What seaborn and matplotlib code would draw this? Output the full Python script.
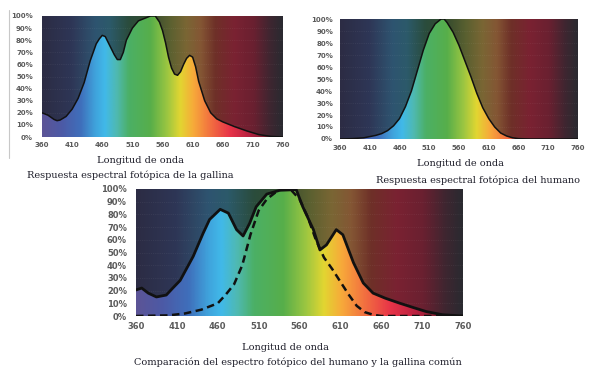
import numpy as np
import matplotlib
matplotlib.use("Agg")
import matplotlib.pyplot as plt
import seaborn as sns
from matplotlib.colors import LinearSegmentedColormap
from matplotlib.patches import Polygon
from matplotlib.lines import Line2D

# respuesta de la gallina (panel superior izquierdo)
gallina_nm = [360, 370, 380, 385, 390, 400, 410, 420, 430, 440, 450, 455, 460, 465, 470, 480, 485,
              490, 495, 500, 510, 520, 530, 540, 548, 555, 560, 565, 570, 575, 580, 585, 590, 595,
              600, 605, 610, 615, 620, 630, 640, 650, 660, 680, 700, 720, 740, 760]
gallina_pct = [20, 18, 14.5, 13.5, 14, 17, 23, 32, 45, 63, 77, 81, 84, 83, 78, 68, 64,
               64, 70, 80, 90, 96, 98, 100, 100, 95, 88, 78, 66, 57, 52, 51, 54, 60,
               65, 67.5, 66, 58, 46, 30, 20, 15, 12.5, 8.5, 5, 2, 0.5, 0]

# respuesta del humano (panel superior derecho)
humano_nm = [360, 380, 400, 420, 430, 440, 450, 460, 470, 480, 490, 500, 510, 520, 530, 535,
             540, 550, 560, 570, 580, 590, 600, 610, 620, 630, 640, 650, 660, 680, 760]
humano_pct = [0, 0.3, 1, 3, 4.5, 7, 11, 17, 27, 40, 57, 74, 88, 96, 100, 100,
              97, 89, 78, 65, 52, 38, 26, 17, 10, 5, 2.5, 1, 0.3, 0, 0]

# comparacion (panel inferior)
cmp_gallina_nm = [360, 367, 375, 385, 397, 405, 414, 430, 442, 450, 463, 473, 483, 491, 499, 507,
                  520, 536, 556, 564, 577, 585, 593, 605, 613, 626, 638, 650, 665, 683, 700, 715,
                  735, 760]
cmp_gallina_pct = [20.5, 22, 18, 15, 16.5, 22, 28, 47, 65, 76, 84, 81, 68, 63, 73, 86,
                   96, 99, 99.5, 86, 68, 52, 56, 68, 64, 42, 26, 18, 14, 10, 6.5, 3.5,
                   1, 0]
cmp_humano_nm = [360, 400, 420, 440, 460, 470, 480, 490, 500, 510, 520, 530, 538, 550, 560, 570,
                 580, 590, 600, 610, 620, 630, 640, 650, 660, 760]
cmp_humano_pct = [0, 0.5, 2, 5, 10, 17, 25, 40, 64, 83, 92, 97, 100, 99, 92, 78,
                  60, 46, 37, 27, 17, 8, 3, 1, 0, 0]

x_ticks = [360, 410, 460, 510, 560, 610, 660, 710, 760]
y_ticks = [0, 10, 20, 30, 40, 50, 60, 70, 80, 90, 100]
y_labels = [f"{v}%" for v in y_ticks]

BRIGHT = [(0.0, "#5c5496"), (0.08, "#4c5aa6"), (0.16, "#3f6fbb"), (0.22, "#3fa3dc"),
          (0.26, "#41b9e9"), (0.31, "#4fb9b0"), (0.36, "#4bb066"), (0.45, "#57ae4a"),
          (0.52, "#9cc641"), (0.575, "#e2d631"), (0.63, "#f7a93a"), (0.70, "#f27040"),
          (0.78, "#e83448"), (0.86, "#b82040"), (0.93, "#7a2030"), (1.0, "#3a2a30")]
DARK = [(0.0, "#2c2c44"), (0.12, "#2e3656"), (0.22, "#2e5470"), (0.28, "#2c5a6a"),
        (0.36, "#2a4c3c"), (0.45, "#364c2e"), (0.53, "#5a6030"), (0.6, "#7a6634"),
        (0.66, "#845634"), (0.72, "#6e3028"), (0.8, "#7a2232"), (0.88, "#6a2030"),
        (0.95, "#3e2630"), (1.0, "#2a2a30")]
bright_cmap = LinearSegmentedColormap.from_list("bright", BRIGHT)
dark_cmap = LinearSegmentedColormap.from_list("dark", DARK)

sns.set_theme(style="white")
plt.rcParams["font.family"] = ["DejaVu Sans"]

fig = plt.figure(figsize=(6, 3.74), dpi=100)
fig.patch.set_facecolor("white")


def spectrum_panel(rect, fill_nm, fill_pct, tick_size, pad_y, pad_x):
    ax = fig.add_axes(rect)
    grad = np.linspace(0, 1, 600)[None, :]
    ax.imshow(grad, cmap=dark_cmap, extent=[360, 760, 0, 100], aspect="auto",
              interpolation="bilinear", zorder=0)
    ax.hlines(y_ticks[1:-1], 360, 760, colors=(1, 1, 1, 0.10), lw=0.5, ls=":", zorder=1)
    im = ax.imshow(grad, cmap=bright_cmap, extent=[360, 760, 0, 100], aspect="auto",
                   interpolation="bilinear", zorder=2)
    verts = [(360, 0)] + list(zip(fill_nm, fill_pct)) + [(760, 0)]
    clip = Polygon(verts, closed=True, transform=ax.transData, fc="none", ec="none")
    ax.add_patch(clip)
    im.set_clip_path(clip)
    ax.set_xlim(360, 760)
    ax.set_ylim(0, 100)
    ax.set_xticks(x_ticks)
    ax.set_yticks(y_ticks)
    ax.set_yticklabels(y_labels)
    for s in ax.spines.values():
        s.set_visible(False)
    ax.tick_params(axis="y", length=0, pad=pad_y, labelsize=tick_size, labelcolor="#5a5a5a")
    ax.tick_params(axis="x", length=0, pad=pad_x, labelsize=tick_size, labelcolor="#5a5a5a")
    for lab in ax.get_xticklabels() + ax.get_yticklabels():
        lab.set_fontweight("bold")
    return ax


# panel 1: gallina
ax1 = spectrum_panel([42 / 600, 1 - 137 / 374, 241 / 600, 121 / 374],
                     gallina_nm, gallina_pct, 5, 6.5, 3.5)
sns.lineplot(x=gallina_nm, y=gallina_pct, ax=ax1, color="#111111", lw=1.1, zorder=3)

# panel 2: humano
ax2 = spectrum_panel([340 / 600, 1 - 139 / 374, 238 / 600, 120 / 374],
                     humano_nm, humano_pct, 5, 5, 4)
sns.lineplot(x=humano_nm, y=humano_pct, ax=ax2, color="#111111", lw=1.1, zorder=3)

# panel 3: comparacion
ax3 = spectrum_panel([136 / 600, 1 - 316 / 374, 327 / 600, 127 / 374],
                     cmp_gallina_nm, cmp_gallina_pct, 6, 6.5, 4)
sns.lineplot(x=cmp_gallina_nm, y=cmp_gallina_pct, ax=ax3, color="#111111", lw=2.0, zorder=4)
sns.lineplot(x=cmp_humano_nm, y=cmp_humano_pct, ax=ax3, color="#111111", lw=1.8,
             linestyle=(0, (3, 1.8)), zorder=3)

for ax in (ax1, ax2, ax3):
    ax.set_xlabel("")
    ax.set_ylabel("")

serif = ["DejaVu Serif"]
txt = dict(ha="center", va="center", family=serif, color="#1c1c28", fontsize=7)
fig.text(140 / 600, 1 - 161 / 374, "Longitud de onda", **txt)
fig.text(130 / 600, 1 - 175 / 374, "Respuesta espectral fotópica de la gallina", **txt)
fig.text(460 / 600, 1 - 163 / 374, "Longitud de onda", **txt)
fig.text(478 / 600, 1 - 180 / 374, "Respuesta espectral fotópica del humano", **txt)
fig.text(285 / 600, 1 - 347 / 374, "Longitud de onda", **txt)
fig.text(298 / 600, 1 - 362 / 374, "Comparación del espectro fotópico del humano y la gallina común", **txt)

# borde gris de la imagen original
fig.add_artist(Line2D([9 / 600, 9 / 600], [1 - 10 / 374, 1 - 158 / 374], color="#c8c8c8", lw=0.8))

fig.savefig("out.png", dpi=100, facecolor="white")
